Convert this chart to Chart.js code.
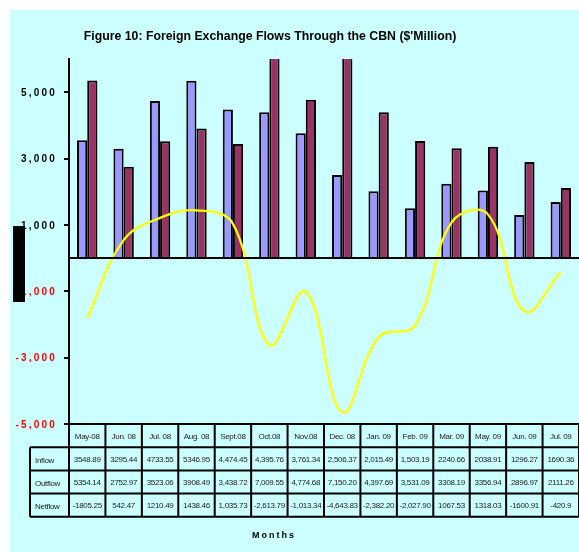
<!DOCTYPE html>
<html>
<head>
<meta charset="utf-8">
<script src="https://cdn.jsdelivr.net/npm/chart.js@4"></script>
<style>
  body { margin: 0; background: #fff; }
  canvas { display: block; }
</style>
</head>
<body>
<canvas id="fxChart" width="579" height="552"></canvas>
<script>
const months = ["May-08", "Jun. 08", "Jul. 08", "Aug. 08", "Sept.08", "Oct.08", "Nov.08",
    "Dec. 08", "Jan. 09", "Feb. 09", "Mar. 09", "May. 09", "Jun. 09", "Jul. 09"];

// values as printed in the data table under the chart
const inflowText = ["3548.89", "3295.44", "4733.55", "5346.95", "4,474.45", "4,395.76", "3,761.34",
    "2,506.37", "2,015.49", "1,503.19", "2240.66", "2038.91", "1296.27", "1690.36"];
const outflowText = ["5354.14", "2752.97", "3523.06", "3908.49", "3,438.72", "7,009.55", "4,774.68",
    "7,150.20", "4,397.69", "3,531.09", "3308.19", "3356.94", "2896.97", "2111.26"];
const netflowText = ["-1805.25", "542.47", "1210.49", "1438.46", "1,035.73", "-2,613.79", "-1,013.34",
    "-4,643.83", "-2,382.20", "-2,027.90", "1067.53", "1318.03", "-1600.91", "-420.9"];

const inflow = inflowText.map(s => parseFloat(s.replace(/,/g, "")));
const outflow = outflowText.map(s => parseFloat(s.replace(/,/g, "")));
const netflow = netflowText.map(s => parseFloat(s.replace(/,/g, "")));

const yTicks = [5000, 3000, 1000, -1000, -3000, -5000];
const yTickLabels = ["5,000", "3,000", "1,000", "-1,000", "-3,000", "-5,000"];

const rowNames = ["Inflow", "Outflow", "Netflow"];
const rowTexts = [inflowText, outflowText, netflowText];

const FONT = "'Liberation Sans', Arial, sans-serif";

const chartDecor = {
    id: "chartDecor",
    beforeDraw(chart) {
        const ctx = chart.ctx;
        ctx.save();
        ctx.fillStyle = "#ffffff";
        ctx.fillRect(0, 0, chart.width, chart.height);
        ctx.fillStyle = "#ccffff";
        ctx.fillRect(10, 10, chart.width - 10, chart.height - 10);
        ctx.restore();
    },
    afterDatasetsDraw(chart) {
        const ctx = chart.ctx;
        const y = chart.scales.y;
        const area = chart.chartArea;
        const y0 = y.getPixelForValue(0);
        ctx.save();
        ctx.strokeStyle = "#000";
        ctx.lineWidth = 2;
        ctx.beginPath();
        ctx.moveTo(area.left, y0);
        ctx.lineTo(area.right, y0);
        ctx.stroke();
        ctx.restore();
    },
    afterDraw(chart) {
        const ctx = chart.ctx;
        const x = chart.scales.x;
        const y = chart.scales.y;
        const area = chart.chartArea;
        ctx.save();

        // title
        ctx.fillStyle = "#000";
        ctx.font = "bold 12.3px " + FONT;
        ctx.textAlign = "center";
        ctx.textBaseline = "middle";
        ctx.fillText("Figure 10: Foreign Exchange Flows Through the CBN ($'Million)", 270, 37);

        // y tick labels
        ctx.font = "bold 10px " + FONT;
        ctx.letterSpacing = "2.2px";
        ctx.textAlign = "right";
        yTicks.forEach((v, i) => {
            ctx.fillStyle = v < 0 ? "#ff0000" : "#000";
            ctx.fillText(yTickLabels[i], area.left - 12, y.getPixelForValue(v) + 1);
        });

        // data table
        const n = months.length;
        const colW = x.width / n;
        const top = y.bottom;
        const rowH = 23.2;
        const labelLeft = 30;
        ctx.letterSpacing = "-0.3px";
        ctx.strokeStyle = "#000";
        ctx.lineWidth = 2;

        for (let r = 0; r <= 4; r++) {
            const yy = top + r * rowH;
            ctx.beginPath();
            ctx.moveTo(r === 0 ? area.left - 5 : labelLeft, yy);
            ctx.lineTo(x.right, yy);
            ctx.stroke();
        }
        for (let c = 0; c <= n; c++) {
            const xx = x.left + c * colW;
            ctx.beginPath();
            ctx.moveTo(xx, top);
            ctx.lineTo(xx, top + 4 * rowH);
            ctx.stroke();
        }
        ctx.beginPath();
        ctx.moveTo(labelLeft, top + rowH);
        ctx.lineTo(labelLeft, top + 4 * rowH);
        ctx.stroke();

        ctx.fillStyle = "#1a1a1a";
        ctx.font = "8px " + FONT;
        ctx.textAlign = "center";
        months.forEach((m, i) => {
            const cx = x.getPixelForValue(i);
            ctx.fillText(m, cx, top + rowH / 2 + 1);
            rowTexts.forEach((arr, r) => {
                ctx.fillText(arr[i], cx, top + (r + 1.5) * rowH + 1);
            });
        });
        ctx.textAlign = "left";
        rowNames.forEach((name, r) => {
            ctx.fillText(name, labelLeft + 5, top + (r + 1.5) * rowH + 2);
        });

        // axis title
        ctx.font = "bold 9px " + FONT;
        ctx.letterSpacing = "2px";
        ctx.textAlign = "center";
        ctx.fillStyle = "#000";
        ctx.fillText("Months", 274, 536);

        // black block over the left labels
        ctx.letterSpacing = "0px";
        ctx.fillStyle = "#000";
        ctx.fillRect(13, 226, 12, 76);
        ctx.restore();
    }
};

new Chart(document.getElementById("fxChart"), {
    type: "bar",
    data: {
        labels: months,
        datasets: [
            {
                label: "Netflow",
                type: "line",
                data: netflow,
                borderColor: "#ffff00",
                borderWidth: 2.3,
                pointRadius: 0,
                tension: 0.4,
                fill: false,
                order: 0
            },
            {
                label: "Inflow",
                data: inflow,
                backgroundColor: "#9999ff",
                borderColor: "#000",
                borderWidth: 2,
                order: 1
            },
            {
                label: "Outflow",
                data: outflow,
                backgroundColor: "#993366",
                borderColor: "#000",
                borderWidth: 2,
                order: 2
            }
        ]
    },
    options: {
        responsive: false,
        animation: false,
        layout: { padding: { left: 10, top: 59, right: 0, bottom: 128 } },
        datasets: {
            bar: { categoryPercentage: 0.56, barPercentage: 1.0 }
        },
        plugins: {
            legend: { display: false },
            title: { display: false },
            tooltip: { enabled: false }
        },
        scales: {
            x: {
                display: false,
                offset: true
            },
            y: {
                min: -5000,
                max: 6000,
                afterBuildTicks: axis => { axis.ticks = yTicks.map(v => ({ value: v })); },
                afterFit: axis => { axis.width = 59; },
                ticks: { display: false },
                border: { color: "#000", width: 2 },
                grid: { drawOnChartArea: false, color: "#000", lineWidth: 2, tickLength: 5 }
            }
        }
    },
    plugins: [chartDecor]
});
</script>
</body>
</html>
